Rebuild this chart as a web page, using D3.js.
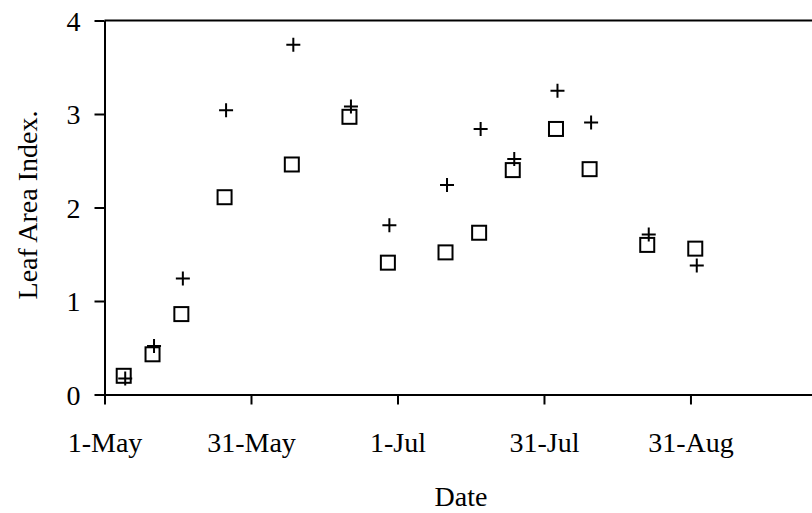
<!DOCTYPE html>
<html>
<head>
<meta charset="utf-8">
<script src="https://cdn.jsdelivr.net/npm/d3@7/dist/d3.min.js"></script>
<style>
  html, body { margin: 0; padding: 0; background: #fff; }
  svg { display: block; }
  text { font-family: "Liberation Serif", "Times New Roman", serif; fill: #000; }
</style>
</head>
<body>
<svg id="chart" width="812" height="513"></svg>
<script>
// Sampling dates (shared by both series)
const sampleDates = [
  "2001-05-05", "2001-05-11", "2001-05-17", "2001-05-26", "2001-06-09",
  "2001-06-21", "2001-06-29", "2001-07-11", "2001-07-18", "2001-07-25",
  "2001-08-03", "2001-08-10", "2001-08-22", "2001-09-01"
];
// Leaf area index, series drawn with open squares
const laiSquare = [0.20, 0.43, 0.86, 2.11, 2.46, 2.97, 1.41, 1.52, 1.73, 2.40, 2.84, 2.41, 1.60, 1.56];
// Leaf area index, series drawn with plus markers
const laiPlus = [0.17, 0.52, 1.24, 3.04, 3.74, 3.08, 1.81, 2.24, 2.84, 2.52, 3.25, 2.91, 1.71, 1.38];

// Axis settings
const xStart = "2001-05-01T00:00";
const xEnd = "2001-10-01T00:00";
const xTickDates = ["2001-05-01T00:00", "2001-05-31T12:00", "2001-07-01T00:00", "2001-07-31T12:00", "2001-08-31T00:00"];
const yTicks = [0, 1, 2, 3, 4];
const xTitle = "Date";
const yTitle = "Leaf Area Index.";

const parse = s => new Date(s);
const svg = d3.select("#chart");

const plotLeft = 104.5, plotTop = 20.5, plotBottom = 394.5;
const pxPerDay = 4.803;
const spanDays = (parse(xEnd) - parse(xStart)) / 864e5;
const fontSize = 28;

const x = d3.scaleTime()
  .domain([parse(xStart), parse(xEnd)])
  .range([plotLeft, plotLeft + spanDays * pxPerDay]);
const y = d3.scaleLinear().domain([0, 4]).range([plotBottom, plotTop]);

// Top frame line
svg.append("line")
  .attr("x1", plotLeft).attr("x2", 812)
  .attr("y1", plotTop).attr("y2", plotTop)
  .attr("stroke", "#000").attr("stroke-width", 2);

const fmt = d3.timeFormat("%-d-%b");

// X axis
const gx = svg.append("g")
  .attr("transform", `translate(0,${plotBottom})`)
  .call(d3.axisBottom(x)
    .tickValues(xTickDates.map(parse))
    .tickFormat(fmt)
    .tickSizeInner(10).tickSizeOuter(0));
gx.select(".domain").attr("stroke-width", 2);
gx.selectAll(".tick line").attr("stroke-width", 2);
gx.selectAll("text")
  .attr("font-size", fontSize).attr("font-family", "Liberation Serif")
  .attr("y", 57.5).attr("dy", 0);

// Y axis
const gy = svg.append("g")
  .attr("transform", `translate(${plotLeft},0)`)
  .call(d3.axisLeft(y)
    .tickValues(yTicks)
    .tickFormat(d3.format("d"))
    .tickSizeInner(10).tickSizeOuter(0).tickPadding(14));
gy.select(".domain").attr("stroke-width", 2);
gy.selectAll(".tick line").attr("stroke-width", 2);
gy.selectAll("text")
  .attr("font-size", fontSize).attr("font-family", "Liberation Serif")
  .attr("dy", "0.34em");

// Axis titles
svg.append("text")
  .attr("x", 461).attr("y", 506)
  .attr("text-anchor", "middle")
  .attr("font-size", fontSize)
  .text(xTitle);

svg.append("text")
  .attr("transform", `translate(37,205) rotate(-90)`)
  .attr("text-anchor", "middle")
  .attr("font-size", fontSize)
  .text(yTitle);

// Markers
const pts = (vals) => sampleDates.map((d, i) => ({ date: parse(d), v: vals[i] }));
const sq = 14;

svg.append("g").selectAll("rect")
  .data(pts(laiSquare))
  .join("rect")
  .attr("x", d => x(d.date) - sq / 2)
  .attr("y", d => y(d.v) - sq / 2)
  .attr("width", sq).attr("height", sq)
  .attr("fill", "none").attr("stroke", "#000").attr("stroke-width", 2);

const arm = 7;
svg.append("g").selectAll("path")
  .data(pts(laiPlus))
  .join("path")
  .attr("d", d => {
    const cx = x(d.date) + 1.5, cy = y(d.v);
    return `M${cx - arm},${cy}H${cx + arm}M${cx},${cy - arm}V${cy + arm}`;
  })
  .attr("fill", "none").attr("stroke", "#000").attr("stroke-width", 2);
</script>
</body>
</html>
